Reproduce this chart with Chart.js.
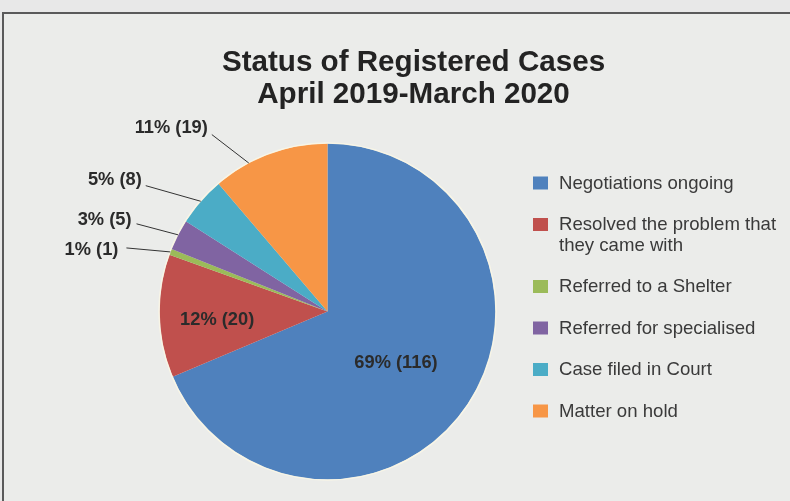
<!DOCTYPE html>
<html>
<head>
<meta charset="utf-8">
<script src="https://cdn.jsdelivr.net/npm/chart.js@4/dist/chart.umd.min.js"></script>
<style>
  html, body { margin: 0; padding: 0; background: #e8e8e8; overflow: hidden; }
  #frame { position: absolute; left: 2px; top: 12px; width: 800px; height: 500px;
           border-left: 2px solid #5a5a5a; border-top: 2px solid #5a5a5a; background: #ebecea; }
  #c { position: absolute; left: 0; top: 0; }
</style>
</head>
<body>
<div id="frame"></div>
<canvas id="c" width="790" height="501"></canvas>
<script>
// ---- data ----
const titleLines = ['Status of Registered Cases', 'April 2019-March 2020'];
const categories = ['Negotiations ongoing', 'Resolved the problem that they came with', 'Referred to a Shelter', 'Referred for specialised', 'Case filed in Court', 'Matter on hold'];
const counts = [116, 20, 1, 5, 8, 19];
const percents = [69, 12, 1, 3, 5, 11];

// ---- styles / placement ----
const colors = ['#4f81bd', '#c0504d', '#9bbb59', '#8064a2', '#4bacc6', '#f79646'];
const FONT = '"Liberation Sans", Arial, Helvetica, sans-serif';
// inside: radius fraction; outside: anchor fraction within slice, line-start offset, text offset from line start
const placement = [
  { inside: true, r: 0.5, dx: -1.5, dy: 5 },
  { inside: true, r: 0.66, dx: 0.5, dy: 5 },
  { inside: false, at: 0.5, lx: -44, ly: -4, tx: -8, ty: 2.5 },
  { inside: false, at: 0.5, lx: -41.5, ly: -11, tx: -5, ty: -4 },
  { inside: false, at: 0.5, lx: -55, ly: -15.6, tx: -4, ty: -5.5 },
  { inside: false, at: 0.31, lx: -37, ly: -28.5, tx: -4, ty: -6.5 }
];

const overlay = {
  id: 'overlay',
  afterDatasetsDraw(chart) {
    const ctx = chart.ctx;
    const meta = chart.getDatasetMeta(0);
    const a0 = meta.data[0];
    const cx = a0.x, cy = a0.y, R = a0.outerRadius;
    ctx.save();
    // outer light rim
    ctx.beginPath();
    ctx.arc(cx, cy, R + 0.5, 0, Math.PI * 2);
    ctx.strokeStyle = 'rgba(250,246,230,0.9)';
    ctx.lineWidth = 1.5;
    ctx.stroke();

    // title
    ctx.fillStyle = '#232323';
    ctx.font = 'bold 29.6px ' + FONT;
    ctx.textAlign = 'center';
    ctx.textBaseline = 'alphabetic';
    ctx.fillText(titleLines[0], 413.5, 70.5);
    ctx.fillText(titleLines[1], 413.5, 102.5);

    // data labels
    ctx.font = 'bold 18.3px ' + FONT;
    ctx.fillStyle = '#2b2b2b';
    ctx.strokeStyle = '#333';
    ctx.lineWidth = 1;
    meta.data.forEach((arc, i) => {
      const p = placement[i];
      const text = percents[i] + '% (' + counts[i] + ')';
      if (p.inside) {
        const mid = (arc.startAngle + arc.endAngle) / 2;
        const x = cx + Math.cos(mid) * R * p.r + p.dx;
        const y = cy + Math.sin(mid) * R * p.r + p.dy;
        ctx.textAlign = 'center';
        ctx.textBaseline = 'middle';
        ctx.fillText(text, x, y);
      } else {
        const ang = arc.startAngle + (arc.endAngle - arc.startAngle) * p.at;
        const ax = cx + Math.cos(ang) * R;
        const ay = cy + Math.sin(ang) * R;
        const sx = ax + p.lx, sy = ay + p.ly;
        ctx.beginPath();
        ctx.moveTo(sx, sy);
        ctx.lineTo(ax, ay);
        ctx.stroke();
        ctx.textAlign = 'right';
        ctx.textBaseline = 'middle';
        ctx.fillText(text, sx + p.tx, sy + p.ty);
      }
    });

    // legend
    ctx.font = '18.6px ' + FONT;
    ctx.textAlign = 'left';
    ctx.textBaseline = 'middle';
    const maxW = 226;
    let y = 183.5;
    categories.forEach((label, i) => {
      const words = label.split(' ');
      const lines = [];
      let cur = '';
      words.forEach(w => {
        const t = cur ? cur + ' ' + w : w;
        if (ctx.measureText(t).width > maxW && cur) { lines.push(cur); cur = w; } else { cur = t; }
      });
      lines.push(cur);
      ctx.fillStyle = colors[i];
      ctx.fillRect(533, y - 7, 15, 13);
      ctx.fillStyle = '#3a3a3a';
      lines.forEach((ln, k) => ctx.fillText(ln, 559, y + k * 20.5));
      y += (lines.length - 1) * 20.5 + 41.5;
    });
    ctx.restore();
  }
};

new Chart(document.getElementById('c'), {
  type: 'pie',
  data: {
    labels: categories,
    datasets: [{ data: counts, backgroundColor: colors, borderWidth: 0 }]
  },
  options: {
    responsive: false,
    devicePixelRatio: 1,
    animation: false,
    layout: { padding: { left: 159.5, right: 294.5, top: 143.5, bottom: 21.5 } },
    plugins: { legend: { display: false }, tooltip: { enabled: false }, title: { display: false } }
  },
  plugins: [overlay]
});
</script>
</body>
</html>
